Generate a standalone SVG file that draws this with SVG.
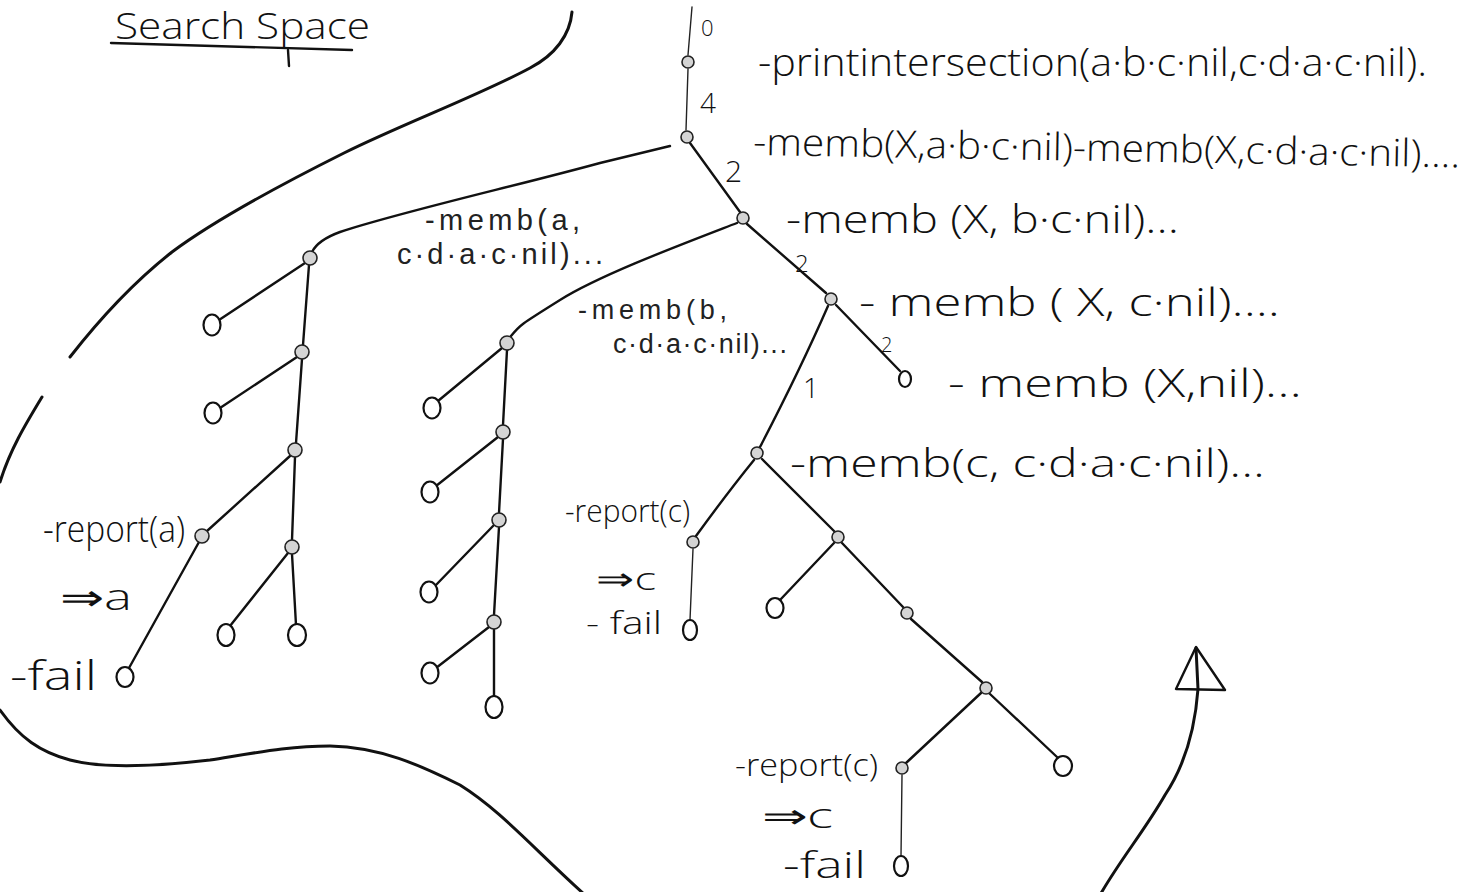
<svg xmlns="http://www.w3.org/2000/svg" width="1482" height="892" viewBox="0 0 1482 892">
<style>
.bg{fill:#fff}
.t{font-family:"Open Sans","Liberation Sans","DejaVu Sans",sans-serif;font-weight:300;fill:#111}
.t2{font-family:"Liberation Sans","DejaVu Sans",sans-serif;fill:#222}
.big{font-size:38px}
.e{fill:none;stroke:#111;stroke-width:2.4;stroke-linecap:round}
.thin{fill:none;stroke:#222;stroke-width:1.4;stroke-linecap:round}
.b{fill:none;stroke:#111;stroke-width:3;stroke-linecap:round}
.n{fill:#d4d4d4;stroke:#222;stroke-width:1.6}
.leaf{fill:#fff;stroke:#111;stroke-width:2.2}
</style>
<rect class="bg" x="0" y="0" width="1482" height="892"/>

<g id="title">
<text class="t" x="115" y="39" font-size="36" textLength="255" lengthAdjust="spacingAndGlyphs">Search Space</text>
<path class="e" d="M111 43 L352 50"/>
<path class="e" d="M288 50 L289 66"/>
</g>

<g id="boundary">
<path class="b" d="M572 12 C570 35 555 55 530 68 C480 95 400 125 344 153 C280 185 215 220 172 252 C130 285 95 325 70 357"/>
<path class="b" d="M42 397 C25 425 10 450 0 482"/>
<path class="b" d="M0 710 C20 738 40 752 70 760 C100 768 150 767 210 760 C260 752 290 746 330 746 C380 747 420 765 460 785 C500 810 530 845 585 895"/>
</g>

<g id="arrow">
<path class="b" d="M1196 648 L1198 689 C1195 730 1185 765 1165 795 C1145 830 1120 860 1100 895"/>
<polygon points="1196,647 1176,689 1225,690" fill="none" stroke="#111" stroke-width="2.4" stroke-linejoin="round"/>
</g>

<g id="connectors">
<path class="thin" d="M692 7 L688 55"/>
<path class="thin" d="M688 69 L686 130"/>
<path class="e" d="M690 143 L740 212"/>
<path class="e" d="M670 146 L600 163 C520 185 400 212 340 232 Q318 240 312 252"/>
<path class="e" d="M737 223 C680 245 600 275 560 300 S520 325 511 336"/>
<path class="e" d="M747 224 L826 293"/>
<path class="e" d="M836 305 L900 371"/>
<path class="e" d="M828 306 Q800 370 760 447"/>
<path class="e" d="M754 460 Q728 492 696 536"/>
<path class="thin" d="M693 549 L690 620"/>
<path class="e" d="M762 459 L834 531"/>
<path class="e" d="M834 543 L780 600"/>
<path class="e" d="M842 543 L903 607"/>
<path class="e" d="M911 619 L982 682"/>
<path class="e" d="M990 694 L1057 757"/>
<path class="e" d="M981 693 L906 763"/>
<path class="thin" d="M902 775 L901 856"/>

<path class="e" d="M305 263 L219 320"/>
<path class="e" d="M309 265 L303 345"/>
<path class="e" d="M297 357 L220 408"/>
<path class="e" d="M302 359 L296 443"/>
<path class="e" d="M290 456 L207 531"/>
<path class="e" d="M295 457 L292 540"/>
<path class="e" d="M199 542 L129 668"/>
<path class="e" d="M288 553 L230 626"/>
<path class="e" d="M292 554 L296 625"/>

<path class="e" d="M502 348 L438 401"/>
<path class="e" d="M507 350 L503 425"/>
<path class="e" d="M498 437 L436 486"/>
<path class="e" d="M503 439 L499 513"/>
<path class="e" d="M494 525 L435 586"/>
<path class="e" d="M499 527 L494 615"/>
<path class="e" d="M489 627 L436 668"/>
<path class="e" d="M494 629 L494 697"/>
</g>

<g id="edge-labels">
<text class="t" x="701" y="36" font-size="22">0</text>
<text class="t" x="700" y="113" font-size="28">4</text>
<text class="t" x="725" y="182" font-size="30">2</text>
<text class="t" x="795" y="272" font-size="24">2</text>
<text class="t" x="881" y="352" font-size="20">2</text>
<text class="t" x="803" y="398" font-size="28">1</text>
</g>

<g id="n-root">
<circle class="n" cx="688" cy="62" r="6"/>
<text class="t" x="758" y="76" font-size="38" textLength="669" lengthAdjust="spacingAndGlyphs">-printintersection(a·b·c·nil,c·d·a·c·nil).</text>
</g>
<g id="n-r1">
<circle class="n" cx="687" cy="137" r="6"/>
<text class="t big" x="753" y="155" font-size="40" textLength="707" lengthAdjust="spacingAndGlyphs" transform="rotate(1 753 155)">-memb(X,a·b·c·nil)-memb(X,c·d·a·c·nil)....</text>
</g>
<g id="n-r2">
<circle class="n" cx="743" cy="218" r="6"/>
<text class="t big" x="786" y="233" textLength="393" lengthAdjust="spacingAndGlyphs">-memb (X, b·c·nil)...</text>
</g>
<g id="n-r3">
<circle class="n" cx="831" cy="299" r="6"/>
<text class="t big" x="859" y="316" textLength="421" lengthAdjust="spacingAndGlyphs">- memb ( X, c·nil)....</text>
</g>
<g id="n-r3-leaf">
<ellipse class="leaf" cx="905" cy="379" rx="6" ry="8"/>
<text class="t big" x="948" y="397" textLength="354" lengthAdjust="spacingAndGlyphs">- memb (X,nil)...</text>
</g>
<g id="n-r4">
<circle class="n" cx="757" cy="453" r="6"/>
<text class="t big" x="790" y="477" textLength="475" lengthAdjust="spacingAndGlyphs">-memb(c, c·d·a·c·nil)...</text>
</g>
<g id="n-c1">
<circle class="n" cx="693" cy="542" r="6"/>
<text class="t" x="565" y="522" font-size="32" textLength="125" lengthAdjust="spacingAndGlyphs">-report(c)</text>
<text class="t" x="596" y="590" font-size="32" textLength="60" lengthAdjust="spacingAndGlyphs">⇒c</text>
</g>
<g id="n-c1-leaf">
<ellipse class="leaf" cx="690" cy="630" rx="7" ry="10"/>
<text class="t" x="586" y="634" font-size="32" textLength="76" lengthAdjust="spacingAndGlyphs">- fail</text>
</g>
<g id="n-r5"><circle class="n" cx="838" cy="537" r="6"/></g>
<g id="n-r5-leaf"><ellipse class="leaf" cx="775" cy="608" rx="8.5" ry="10"/></g>
<g id="n-r6"><circle class="n" cx="907" cy="613" r="6"/></g>
<g id="n-r7"><circle class="n" cx="986" cy="688" r="6"/></g>
<g id="n-r7-leaf"><ellipse class="leaf" cx="1063" cy="766" rx="9" ry="10"/></g>
<g id="n-r8">
<circle class="n" cx="902" cy="768" r="6"/>
<text class="t" x="735" y="776" font-size="32" textLength="143" lengthAdjust="spacingAndGlyphs">-report(c)</text>
<text class="t" x="762" y="828" font-size="34" textLength="71" lengthAdjust="spacingAndGlyphs">⇒c</text>
</g>
<g id="n-r8-leaf">
<ellipse class="leaf" cx="901" cy="866" rx="7" ry="10"/>
<text class="t" x="783" y="878" font-size="36" textLength="83" lengthAdjust="spacingAndGlyphs">-fail</text>
</g>

<g id="n-a1">
<circle class="n" cx="310" cy="258" r="7"/>
<text class="t2" x="425" y="230" font-size="29" textLength="155" lengthAdjust="spacing">-memb(a,</text>
<text class="t2" x="397" y="264" font-size="29" textLength="206" lengthAdjust="spacing">c·d·a·c·nil)...</text>
</g>
<g id="n-a1-leaf"><ellipse class="leaf" cx="212" cy="325" rx="8.5" ry="10.5"/></g>
<g id="n-a2"><circle class="n" cx="302" cy="352" r="7"/></g>
<g id="n-a2-leaf"><ellipse class="leaf" cx="213" cy="413" rx="8.5" ry="10.5"/></g>
<g id="n-a3"><circle class="n" cx="295" cy="450" r="7"/></g>
<g id="n-ra">
<circle class="n" cx="202" cy="536" r="7"/>
<text class="t" x="43" y="542" font-size="36" textLength="142" lengthAdjust="spacingAndGlyphs">-report(a)</text>
<text class="t" x="60" y="610" font-size="36" textLength="72" lengthAdjust="spacingAndGlyphs">⇒a</text>
</g>
<g id="n-ra-leaf">
<ellipse class="leaf" cx="125" cy="677" rx="8.5" ry="10"/>
<text class="t" x="10" y="690" font-size="40" textLength="87" lengthAdjust="spacingAndGlyphs">-fail</text>
</g>
<g id="n-a4"><circle class="n" cx="292" cy="547" r="7"/></g>
<g id="n-a4-leaf1"><ellipse class="leaf" cx="226" cy="635" rx="8.5" ry="11"/></g>
<g id="n-a4-leaf2"><ellipse class="leaf" cx="297" cy="635" rx="9" ry="11"/></g>

<g id="n-b1">
<circle class="n" cx="507" cy="343" r="7"/>
<text class="t2" x="578" y="319" font-size="27" textLength="149" lengthAdjust="spacing">-memb(b,</text>
<text class="t2" x="613" y="353" font-size="27" textLength="174" lengthAdjust="spacing">c·d·a·c·nil)...</text>
</g>
<g id="n-b1-leaf"><ellipse class="leaf" cx="432" cy="408" rx="8.5" ry="10.5"/></g>
<g id="n-b2"><circle class="n" cx="503" cy="432" r="7"/></g>
<g id="n-b2-leaf"><ellipse class="leaf" cx="430" cy="492" rx="8.5" ry="10.5"/></g>
<g id="n-b3"><circle class="n" cx="499" cy="520" r="7"/></g>
<g id="n-b3-leaf"><ellipse class="leaf" cx="429" cy="592" rx="8.5" ry="10.5"/></g>
<g id="n-b4"><circle class="n" cx="494" cy="622" r="7"/></g>
<g id="n-b4-leaf"><ellipse class="leaf" cx="430" cy="673" rx="8.5" ry="10.5"/></g>
<g id="n-b4-leaf2"><ellipse class="leaf" cx="494" cy="707" rx="8.5" ry="11"/></g>
</svg>
